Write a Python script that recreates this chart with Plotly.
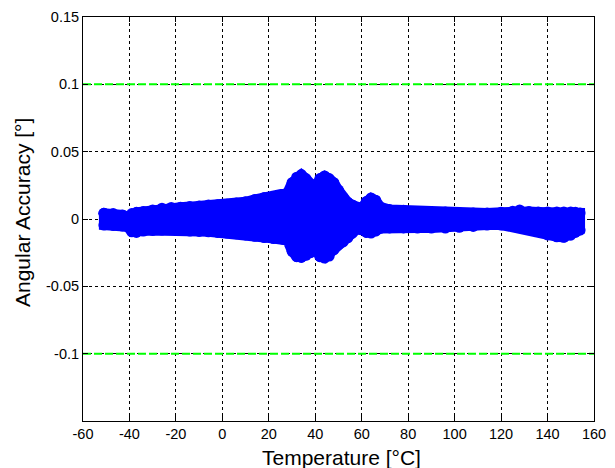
import plotly.graph_objects as go

temperature = [-51, -47, -43, -41, -39, -37, -34, -30, -26, -22, -18, -14, -10, -6, -2, 2, 6, 10, 14, 18,
               22, 26, 28, 30, 32, 34, 36, 38, 40, 42, 44, 46, 48, 50, 52, 54, 56, 58, 60, 62,
               64, 66, 68, 72, 78, 84, 90, 96, 102, 108, 114, 120, 125, 128, 132, 136, 140, 144, 147, 150,
               152, 154]
upper = [0.0042, 0.0040, 0.0030, 0.0018, 0.0040, 0.0050, 0.0055, 0.0067, 0.0080, 0.0086, 0.0088, 0.0092,
         0.0096, 0.0104, 0.0106, 0.0110, 0.0118, 0.0128, 0.0145, 0.0160, 0.0165, 0.0172, 0.0195, 0.0270,
         0.0310, 0.0330, 0.0300, 0.0250, 0.0230, 0.0300, 0.0320, 0.0300, 0.0270, 0.0215, 0.0160, 0.0125,
         0.0104, 0.0085, 0.0080, 0.0130, 0.0156, 0.0140, 0.0090, 0.0070, 0.0065, 0.0055, 0.0052, 0.0052,
         0.0047, 0.0045, 0.0045, 0.0050, 0.0058, 0.0067, 0.0055, 0.0052, 0.0052, 0.0052, 0.0052, 0.0052,
         0.0050, 0.0045]
lower = [-0.0045, -0.0048, -0.0052, -0.0057, -0.0095, -0.0100, -0.0090, -0.0085, -0.0082, -0.0075, -0.0085,
         -0.0090, -0.0092, -0.0095, -0.0100, -0.0104, -0.0110, -0.0118, -0.0128, -0.0138, -0.0145, -0.0150,
         -0.0160, -0.0240, -0.0280, -0.0285, -0.0270, -0.0250, -0.0220, -0.0280, -0.0290, -0.0275, -0.0230,
         -0.0190, -0.0170, -0.0140, -0.0105, -0.0075, -0.0080, -0.0100, -0.0104, -0.0090, -0.0070, -0.0066,
         -0.0066, -0.0067, -0.0067, -0.0067, -0.0062, -0.0055, -0.0045, -0.0045, -0.0050, -0.0060, -0.0072,
         -0.0085, -0.0118, -0.0132, -0.0136, -0.0120, -0.0100, -0.0082]

limit_values = [0.1, -0.1]
x_ticks = [-60, -40, -20, 0, 20, 40, 60, 80, 100, 120, 140, 160]
x_tick_text = ["-60", "-40", "-20", "0", "20", "40", "60", "80", "100", "120", "140", "160"]
y_ticks = [-0.1, -0.05, 0, 0.05, 0.1, 0.15]
y_tick_text = ["-0.1", "-0.05", "0", "0.05", "0.1", "0.15"]

BLUE = "#0000FF"
poly_x = temperature + temperature[::-1] + [temperature[0]]
poly_y = upper + lower[::-1] + [upper[0]]

fig = go.Figure()
fig.add_trace(go.Scatter(
    x=poly_x, y=poly_y, mode="lines+markers", fill="toself", fillcolor=BLUE,
    line=dict(color=BLUE, width=10),
    marker=dict(color=BLUE, size=11, line=dict(width=0)),
    hoverinfo="skip", showlegend=False,
))

for v in limit_values:
    fig.add_trace(go.Scatter(
        x=[-60, 160], y=[v, v], mode="lines",
        line=dict(color="#00FF00", width=2, dash="8px,3px"),
        showlegend=False, hoverinfo="skip",
    ))

axis_common = dict(
    showline=True, linecolor="black", linewidth=1, mirror="allticks",
    ticks="inside", ticklen=5, tickcolor="black",
    showgrid=True, gridcolor="black", gridwidth=1, griddash="3px,3px",
    zeroline=False, tickfont=dict(size=14.5, color="black"), automargin=False,
)

fig.update_xaxes(range=[-60, 160], tickvals=x_ticks, ticktext=x_tick_text, **axis_common)
fig.update_yaxes(range=[-0.15, 0.15], tickvals=y_ticks, ticktext=y_tick_text, **axis_common)

fig.update_layout(
    width=615, height=468,
    margin=dict(l=83, r=21, t=17, b=47, autoexpand=False),
    paper_bgcolor="white", plot_bgcolor="white",
    font=dict(family="Liberation Sans, Arial, sans-serif", color="black"),
    annotations=[
        dict(text="Temperature [°C]", xref="paper", yref="paper", x=0.5, y=0,
             xanchor="center", yanchor="middle", xshift=3, yshift=-36,
             showarrow=False, font=dict(size=21, color="black")),
        dict(text="Angular Accuracy [°]", xref="paper", yref="paper", x=0, y=0.5,
             xanchor="center", yanchor="middle", xshift=-61, yshift=6, textangle=-90,
             showarrow=False, font=dict(size=21, color="black")),
    ],
)

fig.write_html("out.html", config={"displayModeBar": False},
               post_script="document.body.style.margin='0';document.body.style.overflow='hidden';")
